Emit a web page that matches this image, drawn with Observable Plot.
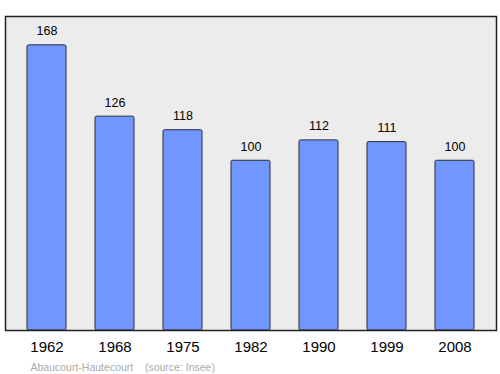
<!DOCTYPE html>
<html>
<head>
<meta charset="utf-8">
<script src="https://cdn.jsdelivr.net/npm/d3@7"></script>
<script src="https://cdn.jsdelivr.net/npm/@observablehq/plot@0.6"></script>
<style>
body { margin: 0; background: #fff; }
svg { font-family: "Liberation Sans", Arial, sans-serif; }
</style>
</head>
<body>
<div id="chart"></div>
<script>
const years = ["1962", "1968", "1975", "1982", "1990", "1999", "2008"];
const population = [168, 126, 118, 100, 112, 111, 100];
const commune = "Abaucourt-Hautecourt";
const source = "(source: Insee)";

const data = years.map((y, i) => ({year: y, value: population[i]}));

const chart = Plot.plot({
  width: 500,
  height: 374,
  marginLeft: 5,
  marginRight: 4,
  marginTop: 16,
  marginBottom: 44,
  style: {fontFamily: "'Liberation Sans', Arial, sans-serif", background: "#fff"},
  x: {domain: years, paddingInner: 0.42, paddingOuter: 0.303, label: null},
  y: {domain: [0, 185], axis: null},
  marks: [
    Plot.frame({fill: "#ececec", stroke: "none"}),
    Plot.barY(data, {x: "year", y: "value", fill: "#7097ff", stroke: "#2a2a3a", strokeWidth: 1, rx: 1.5}),
    Plot.text(data, {x: "year", y: "value", text: d => String(d.value), dy: -14, fontSize: 12.5, fill: "#000"}),
    Plot.frame({stroke: "#222", strokeWidth: 1.5}),
    Plot.axisX({tickSize: 0, tickPadding: 11, fontSize: 15, fill: "#000", label: null}),
    Plot.text([`${commune}    ${source}`], {frameAnchor: "bottom-left", dx: 25, dy: 40, fontSize: 10.5, fill: "#aaa", textAnchor: "start", text: d => d})
  ]
});
chart.querySelectorAll("text").forEach(t => t.setAttribute("xml:space", "preserve"));
chart.style.whiteSpace = "pre";
document.getElementById("chart").appendChild(chart);
</script>
</body>
</html>
